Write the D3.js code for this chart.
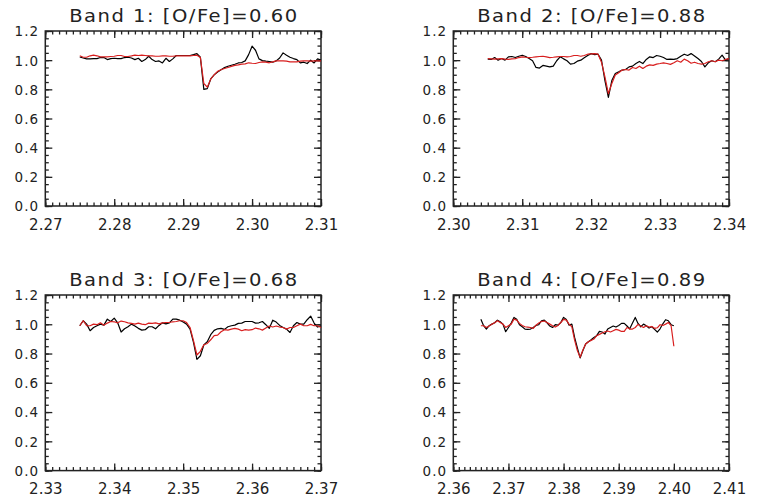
<!DOCTYPE html>
<html>
<head>
<meta charset="utf-8">
<script src="https://cdn.jsdelivr.net/npm/d3@7"></script>
<style>
  html, body { margin: 0; padding: 0; background: #fff; }
  svg { display: block; }
  text { font-family: "DejaVu Sans", sans-serif; fill: #222; }
</style>
</head>
<body>
<svg id="chart" width="759" height="500"></svg>
<script>
// ---------------- DATA ----------------
const titles = ["Band 1: [O/Fe]=0.60", "Band 2: [O/Fe]=0.88", "Band 3: [O/Fe]=0.68", "Band 4: [O/Fe]=0.89"];
const xDomains = [[2.27, 2.31], [2.30, 2.34], [2.33, 2.37], [2.36, 2.41]];
const xTicks1 = [2.27, 2.28, 2.29, 2.30, 2.31];
const xTicks2 = [2.30, 2.31, 2.32, 2.33, 2.34];
const xTicks3 = [2.33, 2.34, 2.35, 2.36, 2.37];
const xTicks4 = [2.36, 2.37, 2.38, 2.39, 2.40, 2.41];
const yTicks = [0.0, 0.2, 0.4, 0.6, 0.8, 1.0, 1.2];
const yDomain = [0, 1.2];

// wavelength sampling of each band (start, step in microns)
const waveStart = [2.275, 2.305, 2.335, 2.365];
const waveStep = 0.0005;

// observed spectra (black)
const obs1 = [1.022,1.015,1.009,1.009,1.011,1.011,1.018,1.018,1.004,1.011,
  1.013,1.011,1.011,1.018,1.020,1.015,1.004,1.013,0.991,1.004,
  1.027,1.004,0.991,0.995,0.981,1.013,0.991,1.009,1.032,1.032,
  1.032,1.032,1.032,1.038,1.045,1.020,0.800,0.805,0.871,0.899,
  0.919,0.935,0.949,0.958,0.965,0.972,0.981,0.984,0.995,1.038,
  1.096,1.068,1.009,0.997,0.993,0.991,0.986,0.995,1.015,1.050,
  1.034,1.020,1.011,1.004,0.981,0.986,0.977,1.000,0.981,1.009,
  1.000];
const obs2 = [1.007,1.005,1.018,1.000,1.011,1.000,1.023,1.025,1.018,1.027,
  1.034,1.025,1.011,0.996,0.950,0.946,0.964,0.959,0.954,0.959,
  0.996,1.023,1.009,0.996,0.973,0.977,0.993,1.000,1.016,1.032,
  1.045,1.038,1.041,1.000,0.860,0.745,0.860,0.909,0.920,0.932,
  0.936,0.954,0.959,0.977,0.991,0.977,1.005,1.023,1.018,1.032,
  1.027,1.018,1.005,1.007,1.005,1.011,1.027,1.041,1.032,1.045,
  1.029,1.011,0.991,0.954,0.982,0.996,0.989,1.007,1.034,1.000,
  1.011];
const obs3 = [0.990,1.024,1.001,0.956,0.978,0.990,1.001,0.994,1.035,1.019,
  1.042,1.010,0.947,0.969,0.983,1.001,0.988,0.972,0.960,0.963,
  0.983,0.983,0.969,0.992,1.010,1.003,1.010,1.035,1.035,1.028,
  1.015,1.001,0.967,0.876,0.760,0.785,0.858,0.881,0.929,0.958,
  0.969,0.972,0.965,0.983,0.990,0.994,1.006,1.008,1.019,1.019,
  1.019,1.008,1.010,1.019,0.997,0.972,1.028,1.015,0.992,0.978,
  0.967,0.944,0.990,1.012,1.001,1.001,1.031,1.056,1.008,0.981,
  0.988];
const obs4 = [1.035,0.990,0.967,0.990,1.001,1.010,1.028,1.017,1.001,0.949,
  0.978,1.008,1.047,1.035,0.997,0.983,0.967,0.965,0.967,0.978,
  0.992,0.997,1.024,1.028,1.010,0.988,0.978,0.997,0.994,1.012,
  1.047,1.033,0.994,1.001,0.910,0.838,0.770,0.820,0.865,0.881,
  0.894,0.910,0.922,0.951,0.947,0.933,0.967,0.978,0.988,0.981,
  0.992,1.006,1.006,0.988,0.969,1.008,1.047,1.006,0.983,1.001,
  0.990,0.974,0.983,0.965,0.947,0.969,1.003,1.031,1.024,0.997,
  0.990];

// synthetic model spectra (red)
const model1 = [1.030,1.020,1.020,1.030,1.035,1.030,1.023,1.023,1.023,1.025,
  1.027,1.032,1.032,1.025,1.025,1.029,1.034,1.032,1.034,1.032,
  1.029,1.029,1.027,1.027,1.029,1.029,1.027,1.027,1.029,1.029,
  1.029,1.029,1.029,1.032,1.034,1.018,0.840,0.815,0.870,0.900,
  0.923,0.934,0.943,0.950,0.957,0.964,0.968,0.973,0.975,0.982,
  0.979,0.977,0.984,0.988,0.986,0.982,0.988,0.995,0.995,0.995,
  0.993,0.988,0.988,0.988,0.993,0.995,0.995,0.993,0.995,0.995,
  0.995];
const model2 = [1.011,1.009,1.007,1.009,1.011,1.007,1.005,1.009,1.011,1.018,
  1.023,1.020,1.018,1.020,1.023,1.025,1.027,1.023,1.018,1.020,
  1.023,1.025,1.025,1.023,1.025,1.032,1.032,1.027,1.032,1.041,
  1.043,1.045,1.041,0.986,0.886,0.770,0.840,0.898,0.914,0.932,
  0.936,0.932,0.950,0.943,0.959,0.943,0.959,0.968,0.964,0.973,
  0.977,0.982,0.977,0.971,0.982,0.996,0.986,1.007,0.996,0.979,
  0.986,0.977,0.973,0.977,0.989,0.996,0.989,1.000,0.996,1.005,
  1.011];
const model3 = [0.990,1.024,0.990,0.990,1.001,0.997,1.010,0.994,1.008,1.019,
  1.017,1.010,1.022,1.017,1.010,1.006,1.001,1.008,1.001,0.997,
  1.008,1.006,1.010,1.003,1.010,1.012,1.012,1.017,1.019,1.024,
  1.024,1.012,0.978,0.888,0.790,0.815,0.860,0.869,0.894,0.922,
  0.926,0.949,0.963,0.960,0.967,0.972,0.967,0.956,0.963,0.960,
  0.963,0.974,0.969,0.960,0.974,0.988,0.981,0.988,0.981,0.978,
  0.967,0.978,0.978,0.990,1.001,0.990,0.990,0.999,0.990,0.990,
  0.978];
const model4 = [0.990,0.990,0.978,0.988,1.001,1.010,1.024,1.012,1.001,0.978,
  0.990,1.001,1.035,1.028,1.006,0.992,0.983,0.981,0.978,0.972,
  0.994,1.008,1.019,1.022,1.012,1.001,0.990,0.981,0.992,1.012,
  1.033,1.028,1.001,0.983,0.892,0.820,0.775,0.824,0.865,0.881,
  0.890,0.899,0.922,0.931,0.940,0.949,0.954,0.947,0.956,0.965,
  0.960,0.951,0.951,0.978,0.967,0.967,0.978,0.999,0.988,0.978,
  0.990,0.981,0.985,0.972,0.976,0.997,0.992,1.001,1.012,0.990,
  0.850];

const observed = [obs1, obs2, obs3, obs4];
const models = [model1, model2, model3, model4];
const xTickSets = [xTicks1, xTicks2, xTicks3, xTicks4];

// ---------------- LAYOUT ----------------
const panels = [
  {x0: 45.3, x1: 321, y0: 31, y1: 206},
  {x0: 453.3, x1: 729, y0: 31, y1: 206},
  {x0: 45.3, x1: 321, y0: 295, y1: 470.6},
  {x0: 453.3, x1: 729, y0: 295, y1: 470.6}
];

const svg = d3.select("#chart");
svg.append("rect").attr("width", 759).attr("height", 500).attr("fill", "#fff");

panels.forEach((p, i) => {
  const x = d3.scaleLinear().domain(xDomains[i]).range([p.x0, p.x1]);
  const y = d3.scaleLinear().domain(yDomain).range([p.y1, p.y0]);
  const g = svg.append("g");

  const [d0, d1] = xDomains[i];
  const xMinor = d3.range(Math.round((d1 - d0) / 0.001) + 1).map(k => d0 + k * 0.001);
  const yMinor = d3.range(25).map(k => k * 0.05);

  const axisStyle = sel => {
    sel.select(".domain").remove();
    sel.selectAll(".tick line").attr("stroke", "#222").attr("stroke-width", 1.3);
  };

  // minor ticks
  g.append("g").attr("transform", `translate(0,${p.y1})`)
    .call(d3.axisBottom(x).tickValues(xMinor).tickSize(-3.5).tickFormat(""))
    .call(axisStyle);
  g.append("g").attr("transform", `translate(0,${p.y0})`)
    .call(d3.axisTop(x).tickValues(xMinor).tickSize(-3.5).tickFormat(""))
    .call(axisStyle);
  g.append("g").attr("transform", `translate(${p.x0},0)`)
    .call(d3.axisLeft(y).tickValues(yMinor).tickSize(-3.5).tickFormat(""))
    .call(axisStyle);
  g.append("g").attr("transform", `translate(${p.x1},0)`)
    .call(d3.axisRight(y).tickValues(yMinor).tickSize(-3.5).tickFormat(""))
    .call(axisStyle);

  // major ticks
  const xb = g.append("g").attr("transform", `translate(0,${p.y1})`)
    .call(d3.axisBottom(x).tickValues(xTickSets[i]).tickSize(-7).tickPadding(14).tickFormat(d3.format(".2f")))
    .call(axisStyle);
  xb.selectAll(".tick text").attr("font-size", 15).attr("font-family", "DejaVu Sans")
    .attr("fill", "#333").attr("y", 23.5).attr("dy", 0);
  g.append("g").attr("transform", `translate(0,${p.y0})`)
    .call(d3.axisTop(x).tickValues(xTickSets[i]).tickSize(-7).tickFormat(""))
    .call(axisStyle);
  const yl = g.append("g").attr("transform", `translate(${p.x0},0)`)
    .call(d3.axisLeft(y).tickValues(yTicks).tickSize(-7).tickFormat(d3.format(".1f")))
    .call(axisStyle);
  yl.selectAll(".tick text").attr("font-size", 13.5).attr("font-family", "DejaVu Sans")
    .attr("fill", "#333").attr("x", -6).attr("dy", "0.36em").attr("letter-spacing", 1.1);
  g.append("g").attr("transform", `translate(${p.x1},0)`)
    .call(d3.axisRight(y).tickValues(yTicks).tickSize(-7).tickFormat(""))
    .call(axisStyle);

  // frame
  g.append("rect").attr("x", p.x0).attr("y", p.y0)
    .attr("width", p.x1 - p.x0).attr("height", p.y1 - p.y0)
    .attr("fill", "none").attr("stroke", "#222").attr("stroke-width", 1.5);

  // spectra
  const line = d3.line()
    .x((d, k) => x(waveStart[i] + k * waveStep))
    .y(d => y(d));
  g.append("path").datum(observed[i]).attr("d", line)
    .attr("fill", "none").attr("stroke", "#000").attr("stroke-width", 1.2)
    .attr("stroke-linejoin", "round");
  g.append("path").datum(models[i]).attr("d", line)
    .attr("fill", "none").attr("stroke", "#d81e1e").attr("stroke-width", 1.2)
    .attr("stroke-linejoin", "round");

  // title (slightly widened glyphs, like the original vector font)
  const sx = 1.15;
  const cx = (p.x0 + p.x1) / 2;
  g.append("text")
    .attr("transform", `translate(${cx},${p.y0 - 9.3}) scale(${sx},1)`)
    .attr("x", 0).attr("y", 0)
    .attr("text-anchor", "middle").attr("font-size", 17)
    .attr("textLength", 228 / sx).attr("lengthAdjust", "spacing")
    .text(titles[i]);
});
</script>
</body>
</html>
